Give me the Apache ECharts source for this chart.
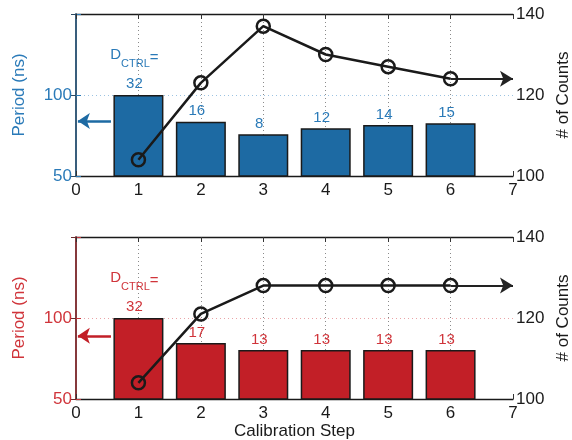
<!DOCTYPE html>
<html><head><meta charset="utf-8">
<script src="https://cdn.jsdelivr.net/npm/echarts@6/dist/echarts.min.js"></script>
<style>html,body{margin:0;padding:0;background:#fff}#c{width:572px;height:440px}</style>
</head><body><div id="c"></div>
<script>
const steps = [1, 2, 3, 4, 5, 6];
const xTicks = [0, 1, 2, 3, 4, 5, 6, 7];
const periodTop = [100, 83.5, 75.7, 79.4, 81.5, 82.5];
const dctrlTop = [32, 16, 8, 12, 14, 15];
const countsTop = [104, 123, 137, 130, 127, 124];
const periodBottom = [100, 84.6, 80.2, 80.2, 80.2, 80.2];
const dctrlBottom = [32, 17, 13, 13, 13, 13];
const countsBottom = [104, 121, 128, 128, 128, 128];
const arrowPeriodTop = 84;
const arrowPeriodBottom = 89;
const arrowXFrom = 0.56, arrowXTo = 0.03;
const countsArrowEnd = 7;

const FONT = 'Liberation Sans, Arial, Helvetica, sans-serif';
const themes = [
  {bar:'#1d6aa3', text:'#2a7ab8', axis:'#2a7ab8', grid100:'#9cc3e2', right:'#2d4a62'},
  {bar:'#c21f27', text:'#d0343a', axis:'#c8333a', grid100:'#eaa3a6', right:'#6b2b2d'}
];
const grids = [
  {left:76, top:14, width:437, height:162, outerBoundsMode:'none', containLabel:false},
  {left:76, top:237, width:437, height:162, outerBoundsMode:'none', containLabel:false}
];

const xAxes = [], yAxes = [], series = [];
[[periodTop, dctrlTop, countsTop, arrowPeriodTop],[periodBottom, dctrlBottom, countsBottom, arrowPeriodBottom]].forEach((d, gi) => {
  const th = themes[gi];
  const [period, dctrl, counts, arrowP] = d;
  xAxes.push({
    gridIndex: gi, type:'value', min: xTicks[0], max: xTicks[xTicks.length-1], interval: 1, position:'bottom',
    axisLine:{show:true, onZero:false, lineStyle:{color:'#1a1a1a', width:1.3}},
    axisTick:{show:true, inside:true, length:5, lineStyle:{color:'#333'}},
    axisLabel:{color:'#1a1a1a', fontSize:17, fontFamily:FONT, margin:6},
    splitLine:{show:true, showMinLine:false, showMaxLine:false, lineStyle:{color:'#8a8a8a', type:[1,3], width:1}},
    name: gi === 1 ? 'Calibration Step' : '', nameLocation:'middle', nameGap:21,
    nameTextStyle:{color:'#1a1a1a', fontSize:17, fontFamily:FONT}
  });
  xAxes.push({
    gridIndex: gi, type:'value', min: xTicks[0], max: xTicks[xTicks.length-1], interval: 1, position:'top',
    axisLine:{show:true, onZero:false, lineStyle:{color:'#1a1a1a', width:1.3}},
    axisTick:{show:true, inside:true, length:5, lineStyle:{color:'#333'}},
    axisLabel:{show:false}, splitLine:{show:false}
  });
  yAxes.push({
    gridIndex: gi, type:'value', min:50, max:150, interval:50, position:'left',
    axisLine:{show:true, lineStyle:{color:th.axis, width:1.5}},
    axisTick:{show:true, inside:true, length:5, lineStyle:{color:th.axis}},
    axisLabel:{color:th.text, fontSize:17, fontFamily:FONT, margin:4, formatter: v => v === 150 ? '' : String(v)},
    splitLine:{show:true, showMinLine:false, showMaxLine:false, lineStyle:{color:th.grid100, type:[1,3], width:1}},
    name:'Period (ns)', nameLocation:'middle', nameGap:48,
    nameTextStyle:{color:th.text, fontSize:17, fontFamily:FONT}
  });
  yAxes.push({
    gridIndex: gi, type:'value', min:100, max:140, interval:20, position:'right',
    axisLine:{show:true, lineStyle:{color:th.right, width:1.5}},
    axisTick:{show:true, inside:true, length:5, lineStyle:{color:th.right}},
    axisLabel:{color:'#1a1a1a', fontSize:17, fontFamily:FONT, margin:3},
    splitLine:{show:false},
    name:'# of Counts', nameLocation:'middle', nameGap:42,
    nameTextStyle:{color:'#1a1a1a', fontSize:17, fontFamily:FONT}
  });
  const c = th.text;
  series.push({
    type:'bar', xAxisIndex: gi*2, yAxisIndex: gi*2, barWidth:50, clip:true, z:2,
    itemStyle:{color:th.bar, borderColor:'#1a1a1a', borderWidth:1.5},
    label:{show:true, position:'top', distance:3, offset:[-4,0], color:c, fontSize:15, fontFamily:FONT,
      formatter: p => String(dctrl[p.dataIndex])},
    data: steps.map((s, i) => i === 0 ? {
      value:[s, period[i]],
      label:{formatter:'{d|D}{s|CTRL}{e|=}\n{g| }\n{n|' + dctrl[i] + '}',
        rich:{
          d:{fontSize:15, lineHeight:16, verticalAlign:'top', color:c, fontFamily:FONT},
          s:{fontSize:11, lineHeight:12, verticalAlign:'bottom', color:c, fontFamily:FONT},
          e:{fontSize:15, lineHeight:22, verticalAlign:'middle', color:c, fontFamily:FONT},
          g:{fontSize:8, lineHeight:7},
          n:{fontSize:15, lineHeight:16, color:c, fontFamily:FONT}
        }}
    } : [s, period[i]]),
    markLine:{silent:true, symbol:['none','arrow'], symbolSize:[12,12], animation:false,
      label:{show:false}, lineStyle:{color:th.bar, width:2.5, type:'solid'},
      emphasis:{disabled:true},
      data:[[{coord:[arrowXFrom, arrowP]},{coord:[arrowXTo, arrowP]}]]}
  });
  series.push({
    type:'line', xAxisIndex: gi*2, yAxisIndex: gi*2+1, z:5,
    symbol:'circle', symbolSize:13,
    lineStyle:{color:'#1a1a1a', width:2.5},
    itemStyle:{color:'rgba(0,0,0,0)', borderColor:'#1a1a1a', borderWidth:2.5},
    data: steps.map((s, i) => [s, counts[i]]),
    markLine:{silent:true, symbol:['none','arrow'], symbolSize:[12,13], animation:false,
      label:{show:false}, lineStyle:{color:'#222', width:2, type:'solid'},
      emphasis:{disabled:true},
      data:[[{coord:[steps[steps.length-1], counts[counts.length-1]]},{coord:[countsArrowEnd, counts[counts.length-1]]}]]}
  });
});

const chart = echarts.init(document.getElementById('c'), null, {renderer:'canvas'});
chart.setOption({
  animation:false, backgroundColor:'#fff',
  grid: grids, xAxis: xAxes, yAxis: yAxes, series
});
</script></body></html>
